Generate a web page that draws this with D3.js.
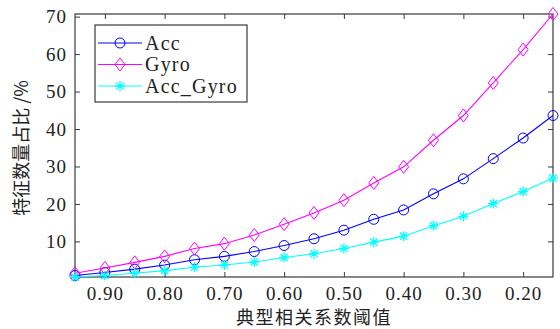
<!DOCTYPE html>
<html>
<head>
<meta charset="utf-8">
<script src="https://cdn.jsdelivr.net/npm/d3@7"></script>
<style>
  body { margin: 0; background: #fff; }
  svg text { fill: #222; }
</style>
</head>
<body>
<svg id="chart"></svg>
<script>
const thresholds = [0.95, 0.90, 0.85, 0.80, 0.75, 0.70, 0.65, 0.60, 0.55, 0.50, 0.45, 0.40, 0.35, 0.30, 0.25, 0.20, 0.15];
const accValues = [0.9, 1.7, 2.6, 3.7, 5.1, 6.0, 7.3, 8.9, 10.7, 13.0, 15.9, 18.4, 22.7, 26.7, 32.1, 37.6, 43.6];
const gyroValues = [1.5, 2.9, 4.4, 6.0, 8.1, 9.4, 11.7, 14.6, 17.6, 21.0, 25.6, 29.9, 37.0, 43.6, 52.3, 61.2, 70.7];
const accGyroValues = [0.5, 0.9, 1.5, 2.2, 3.1, 3.7, 4.5, 5.7, 6.7, 8.1, 9.8, 11.4, 14.2, 16.7, 20.1, 23.3, 26.9];
const xTicks = [0.90, 0.80, 0.70, 0.60, 0.50, 0.40, 0.30, 0.20];
const yTicks = [10, 20, 30, 40, 50, 60, 70];
const seriesNames = ["Acc", "Gyro", "Acc_Gyro"];
const xLabel = "典型相关系数阈值";
const yLabel = "特征数量占比 /%";

const width = 560, height = 329;
const margin = { top: 14, right: 7, bottom: 52, left: 75 };

const series = [
    { name: seriesNames[0], values: accValues, color: "#0000ff", marker: "circle" },
    { name: seriesNames[1], values: gyroValues, color: "#ff00ff", marker: "diamond" },
    { name: seriesNames[2], values: accGyroValues, color: "#00ffff", marker: "star" }
];

const svg = d3.select("#chart").attr("width", width).attr("height", height);

const x = d3.scaleLinear()
    .domain(d3.extent(thresholds).reverse())
    .range([margin.left, width - margin.right]);

const allValues = accValues.concat(gyroValues, accGyroValues);
const y = d3.scaleLinear()
    .domain(d3.extent(allValues))
    .range([height - margin.bottom, margin.top]);

const serif = "'Liberation Serif', 'DejaVu Serif', serif";
const cjk = "'Noto Sans CJK SC', sans-serif";
const axisColor = "#3a3a3a";

// axes with inward ticks, box on all sides
function styleAxis(g) {
    g.select(".domain").remove();
    g.selectAll("line").attr("stroke", axisColor);
    g.selectAll("text")
        .attr("font-family", serif).attr("font-size", 19)
        .attr("letter-spacing", 1).attr("fill", "#222");
}

svg.append("g")
    .attr("transform", `translate(0,${height - margin.bottom})`)
    .call(d3.axisBottom(x).tickValues(xTicks).tickFormat(d3.format(".2f")).tickSizeInner(-5).tickPadding(10))
    .call(styleAxis);

svg.append("g")
    .attr("transform", `translate(0,${margin.top})`)
    .call(d3.axisTop(x).tickValues(xTicks).tickFormat("").tickSizeInner(-5))
    .call(styleAxis);

svg.append("g")
    .attr("transform", `translate(${margin.left},0)`)
    .call(d3.axisLeft(y).tickValues(yTicks).tickSizeInner(-5).tickPadding(8))
    .call(styleAxis);

svg.append("g")
    .attr("transform", `translate(${width - margin.right},0)`)
    .call(d3.axisRight(y).tickValues(yTicks).tickFormat("").tickSizeInner(-5))
    .call(styleAxis);

svg.append("rect")
    .attr("x", margin.left)
    .attr("y", margin.top)
    .attr("width", width - margin.left - margin.right)
    .attr("height", height - margin.top - margin.bottom)
    .attr("fill", "none")
    .attr("stroke", axisColor)
    .attr("stroke-width", 1.2);

function drawMarker(g, type, color) {
    if (type === "circle") {
        g.append("circle").attr("r", 5).attr("fill", "none").attr("stroke", color).attr("stroke-width", 1);
    } else if (type === "diamond") {
        g.append("path").attr("d", "M0,-6.5L5,0L0,6.5L-5,0Z").attr("fill", "none").attr("stroke", color).attr("stroke-width", 1);
    } else {
        g.append("path").attr("d", "M-5,0L5,0M0,-5L0,5M-3.6,-3.6L3.6,3.6M-3.6,3.6L3.6,-3.6")
            .attr("stroke", color).attr("stroke-width", 1.3);
    }
}

const line = d3.line()
    .x((d, i) => x(thresholds[i]))
    .y(d => y(d));

series.forEach(s => {
    svg.append("path")
        .datum(s.values)
        .attr("fill", "none")
        .attr("stroke", s.color)
        .attr("stroke-width", 1.1)
        .attr("d", line);
    svg.append("g").selectAll("g")
        .data(s.values)
        .enter()
        .append("g")
        .attr("transform", (d, i) => `translate(${x(thresholds[i])},${y(d)})`)
        .each(function () { drawMarker(d3.select(this), s.marker, s.color); });
});

// legend
const legend = svg.append("g").attr("transform", "translate(95,25)");
legend.append("rect")
    .attr("width", 152).attr("height", 77)
    .attr("fill", "#fff").attr("stroke", axisColor).attr("stroke-width", 1.2);
series.forEach((s, i) => {
    const row = legend.append("g").attr("transform", `translate(0,${18 + i * 21.5})`);
    row.append("line").attr("x1", 3).attr("x2", 47).attr("stroke", s.color).attr("stroke-width", 1.1);
    drawMarker(row.append("g").attr("transform", "translate(25,0)"), s.marker, s.color);
    row.append("text")
        .attr("x", 50).attr("y", 6.5)
        .attr("font-family", serif).attr("font-size", 20)
        .attr("letter-spacing", 1.2)
        .text(s.name);
});

// axis titles
svg.append("text")
    .attr("x", (margin.left + width - margin.right) / 2)
    .attr("y", 324)
    .attr("text-anchor", "middle")
    .attr("font-family", cjk).attr("font-size", 18)
    .attr("letter-spacing", 1.5)
    .text(xLabel);

svg.append("text")
    .attr("transform", "translate(28,148) rotate(-90)")
    .attr("text-anchor", "middle")
    .attr("font-family", cjk).attr("font-size", 18)
    .text(yLabel);
</script>
</body>
</html>
